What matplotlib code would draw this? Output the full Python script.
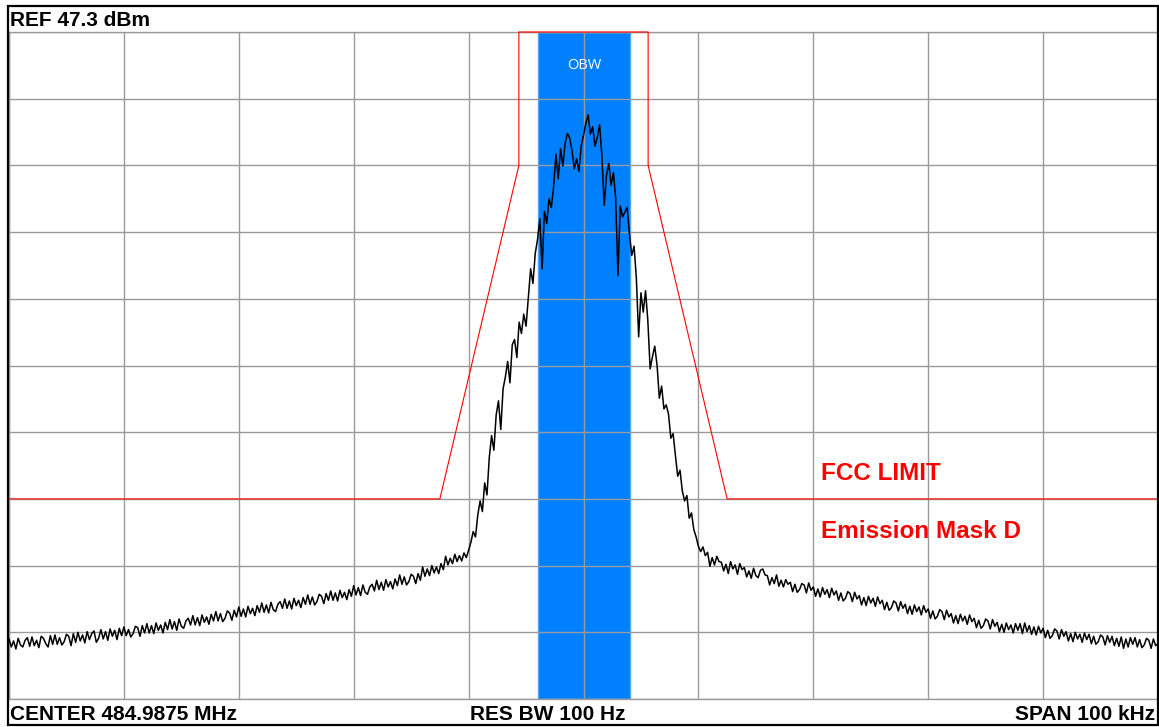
import numpy as np
import matplotlib
matplotlib.use('Agg')
import matplotlib.pyplot as plt
from matplotlib.patches import Rectangle

# spectrum analyser settings
ref_level = 47.3      # dBm, top of screen
db_per_div = 10
span_khz = 100
center_label = 'CENTER 484.9875 MHz'
rbw_label = 'RES BW 100 Hz'
span_label = 'SPAN 100 kHz'

# occupied bandwidth edges (kHz from center)
obw_lo = -3.93
obw_hi = 4.07

# FCC emission mask D limit line (kHz, dBm)
mask_khz = [-50, -12.5, -5.625, -5.625, 5.625, 5.625, 12.5, 50]
mask_dbm = [-22.7, -22.7, 27.3, 47.3, 47.3, 27.3, -22.7, -22.7]

# measured trace, one point every 0.2 kHz from -50 to +50 kHz (dBm)
level_dbm = [
    -43.7, -44.9, -44.0, -45.2, -43.6, -44.6, -44.9, -43.9, -43.5, -44.8,
    -43.4, -44.7, -43.9, -45.0, -43.3, -43.6, -44.4, -44.9, -43.2, -44.5,
    -43.1, -44.5, -43.5, -44.6, -44.1, -43.0, -43.3, -44.7, -42.9, -44.2,
    -42.7, -44.0, -43.1, -44.3, -42.6, -43.8, -42.9, -42.5, -44.2, -43.6,
    -42.3, -43.7, -42.6, -43.9, -42.2, -43.3, -42.4, -43.8, -42.1, -43.2,
    -41.9, -43.2, -42.3, -43.4, -42.9, -41.8, -42.0, -43.3, -41.7, -42.8,
    -41.4, -42.8, -41.7, -42.9, -41.3, -42.4, -41.6, -42.8, -41.2, -42.3,
    -40.8, -42.2, -41.1, -42.4, -40.7, -41.8, -42.1, -41.0, -40.6, -41.6,
    -40.2, -41.6, -40.5, -41.7, -40.1, -41.2, -40.4, -41.5, -40.0, -41.0,
    -39.6, -41.0, -39.9, -41.1, -40.6, -39.5, -39.8, -40.9, -39.4, -40.4,
    -38.9, -40.3, -39.2, -40.4, -38.8, -39.9, -39.1, -40.2, -38.7, -39.7,
    -38.3, -39.7, -38.6, -39.8, -38.2, -39.3, -39.6, -38.5, -38.1, -39.1,
    -37.7, -39.1, -38.0, -39.2, -37.6, -38.7, -37.9, -39.0, -37.5, -38.5,
    -37.1, -38.5, -37.4, -38.6, -38.1, -37.0, -37.3, -38.4, -36.9, -37.9,
    -36.5, -37.9, -36.8, -38.0, -36.4, -37.5, -36.7, -37.8, -36.3, -37.3,
    -35.7, -37.1, -36.0, -37.2, -35.6, -36.7, -37.0, -35.9, -35.5, -36.5,
    -34.9, -36.3, -35.2, -36.4, -34.8, -35.9, -35.1, -36.2, -34.7, -35.7,
    -34.1, -35.5, -34.4, -35.6, -35.1, -34.0, -34.3, -35.4, -33.9, -34.9,
    -32.9, -34.3, -33.2, -34.2, -32.7, -33.8, -32.9, -33.9, -32.4, -33.3,
    -31.3, -32.6, -31.6, -32.4, -31.0, -32.1, -31.2, -32.0, -30.8, -31.5,
    -30.4, -29.2, -27.6, -28.4, -25.1, -23.0, -24.6, -20.3, -22.1, -16.5,
    -13.2, -15.4, -10.1, -8.0, -12.3, -6.2, -4.4, -2.1, -5.3, 0.4,
    1.2, -1.5, 3.8, 2.1, 5.0, 3.2, 7.4, 11.8, 9.6, 14.1,
    16.2, 19.3, 11.8, 20.4, 18.6, 22.3, 21.0, 24.1, 29.0, 25.3,
    29.8, 27.2, 30.6, 32.1, 31.4, 29.5, 26.8, 28.3, 26.4, 30.2,
    31.8, 33.6, 34.9, 32.0, 33.1, 30.2, 31.5, 33.4, 28.7, 21.3,
    25.8, 27.6, 24.3, 26.2, 22.4, 10.8, 21.2, 19.6, 20.3, 21.0,
    17.0, 13.8, 15.2, 10.4, 1.6, 8.2, 5.3, 8.5, 4.0, -3.2,
    -1.4, 0.2, -2.6, -7.6, -5.8, -9.2, -8.6, -10.0, -13.6, -12.9,
    -16.2, -19.3, -18.4, -21.5, -23.0, -22.2, -25.6, -24.8, -27.3, -28.4,
    -29.8, -30.6, -29.9, -31.2, -30.7, -32.8, -31.5, -32.6, -31.3, -32.1,
    -32.2, -33.5, -32.5, -33.9, -32.1, -33.2, -32.6, -34.0, -32.4, -33.3,
    -33.0, -34.4, -33.5, -34.6, -33.1, -34.2, -34.5, -33.4, -33.2, -34.1,
    -34.2, -35.6, -34.5, -35.4, -34.1, -35.8, -34.9, -35.9, -34.8, -35.5,
    -35.2, -36.6, -35.5, -36.7, -36.3, -35.4, -35.6, -36.8, -35.3, -36.4,
    -35.9, -37.3, -36.2, -37.4, -36.0, -37.0, -36.3, -37.5, -36.1, -37.1,
    -36.5, -37.9, -36.8, -38.0, -37.6, -36.6, -36.9, -38.1, -36.7, -37.7,
    -37.2, -38.6, -37.5, -38.7, -37.3, -38.3, -37.6, -38.8, -37.4, -38.4,
    -37.9, -39.3, -38.2, -39.4, -39.0, -38.0, -38.3, -39.5, -38.1, -39.1,
    -38.5, -39.9, -38.8, -40.0, -38.6, -39.6, -38.9, -40.1, -38.7, -39.7,
    -39.2, -40.6, -39.5, -40.7, -40.3, -39.3, -39.6, -40.8, -39.4, -40.4,
    -39.9, -41.3, -40.2, -41.4, -40.0, -41.0, -40.3, -41.5, -40.1, -41.1,
    -40.6, -42.0, -40.9, -42.1, -41.7, -40.7, -41.0, -42.2, -40.8, -41.8,
    -41.2, -42.6, -41.5, -42.7, -41.3, -42.3, -41.6, -42.8, -41.4, -42.4,
    -41.4, -42.9, -41.3, -42.6, -41.7, -43.0, -41.9, -43.1, -41.8, -42.8,
    -42.1, -43.5, -42.4, -43.6, -43.2, -42.2, -42.5, -43.7, -42.3, -43.3,
    -42.6, -44.0, -42.9, -44.1, -42.7, -43.7, -43.0, -44.2, -42.8, -43.8,
    -43.0, -44.4, -43.3, -44.5, -44.1, -43.1, -43.4, -44.6, -43.2, -44.2,
    -43.3, -44.7, -43.6, -44.8, -43.4, -45.1, -43.7, -44.9, -43.5, -44.5,
    -43.5, -44.9, -43.8, -45.0, -44.6, -43.6, -43.9, -45.1, -43.7, -44.7,
    -44.4,
]

# sweep frequency of each trace point
freq_khz = np.linspace(-span_khz / 2, span_khz / 2, len(level_dbm))

W, H = 1159, 727
fig = plt.figure(figsize=(W / 100, H / 100), dpi=100)
fig.patch.set_facecolor('white')

# screen area in pixels: x 9..1158, y 32..699
ax = fig.add_axes([9 / W, (H - 699) / H, (1158 - 9) / W, (699 - 32) / H])
ax.set_xlim(-span_khz / 2, span_khz / 2)
ax.set_ylim(ref_level - 10 * db_per_div, ref_level)
ax.set_xticks(np.arange(-50, 51, 10))
ax.set_yticks(np.arange(ref_level - 100, ref_level + 1, db_per_div))
ax.tick_params(length=0, labelbottom=False, labelleft=False)
ax.set_axisbelow(False)
ax.grid(True, color='#9a9a9a', lw=1.0)
for s in ax.spines.values():
    s.set_color('#9a9a9a')
    s.set_linewidth(1.0)

# occupied bandwidth band
ax.axvspan(obw_lo, obw_hi, facecolor='#0080ff', edgecolor='#4da6ff', lw=1.0, zorder=1)
ax.text((obw_lo + obw_hi) / 2, ref_level - 5, 'OBW', color='white', ha='center', va='center',
        fontsize=10.5, family='Open Sans', zorder=5)

# limit mask and trace
ax.plot(mask_khz, mask_dbm, color='red', lw=0.8, zorder=3, clip_on=False)
ax.plot(freq_khz, level_dbm, color='black', lw=1.1, zorder=4)

ax.text(20.7, -19.8, 'FCC LIMIT', color='red', fontsize=17.5, fontweight='bold',
        family='Liberation Sans', va='baseline', zorder=5)
ax.text(20.7, -28.5, 'Emission Mask D', color='red', fontsize=17.5, fontweight='bold',
        family='Liberation Sans', va='baseline', zorder=5)

# header / footer annotations
lab = dict(fontsize=15, fontweight='bold', family='Liberation Sans', va='baseline', color='black')
fig.text(10 / W, (H - 26.5) / H, 'REF %.1f dBm' % ref_level, ha='left', **lab)
fig.text(10 / W, (H - 720) / H, center_label, ha='left', **lab)
fig.text(470 / W, (H - 720) / H, rbw_label, ha='left', **lab)
fig.text(1155 / W, (H - 720) / H, span_label, ha='right', **lab)

# outer frame
fig.add_artist(Rectangle((8 / W, 2 / H), 1150 / W, 719.5 / H, transform=fig.transFigure,
                         fill=False, edgecolor='black', lw=1.6))

fig.savefig('out.png', dpi=100, facecolor='white')
